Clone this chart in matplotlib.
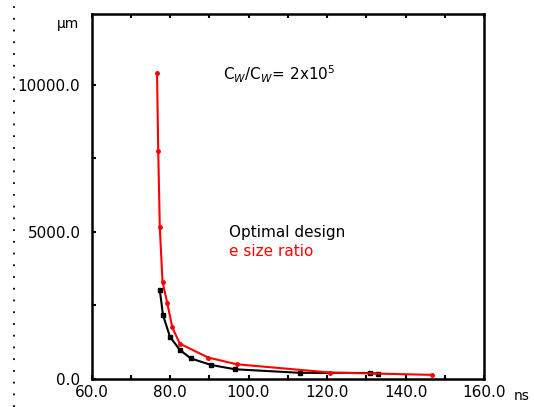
import matplotlib.pyplot as plt
from matplotlib.lines import Line2D

# values
delay_uniform = [76.7, 77.0, 77.4, 78.1, 79.3, 80.6, 82.5, 89.7, 97.0, 120.8, 146.8]
area_uniform = [10400, 7750, 5150, 3300, 2580, 1750, 1200, 730, 500, 220, 140]

delay_optimal = [77.4, 78.2, 80.0, 82.5, 85.3, 90.5, 96.6, 113.1, 130.9, 133.0]
area_optimal = [3030, 2180, 1430, 990, 700, 476, 330, 210, 205, 180]

x_ticks = [60, 80, 100, 120, 140, 160]
y_ticks = [0, 5000, 10000]

fig = plt.figure(figsize=(5.34, 4.07), dpi=100)
ax = fig.add_axes([91.5 / 534, 28 / 407, 392.5 / 534, 365 / 407])

ax.plot(delay_optimal, area_optimal, color="black", lw=1.5,
        marker="s", ms=3, mec="black", mfc="black")
ax.plot(delay_uniform, area_uniform, color="red", lw=1.5,
        marker="o", ms=2.5, mec="red", mfc="red")

ax.set_xlim(60, 160)
ax.set_ylim(0, 12400)
ax.set_xticks(x_ticks)
ax.set_xticklabels([f"{v:.1f}" for v in x_ticks])
ax.set_yticks(y_ticks)
ax.set_yticklabels([f"{v:.1f}" for v in y_ticks])
ax.set_xticks(range(70, 160, 20), minor=True)
ax.set_yticks([2500, 7500], minor=True)
ax.tick_params(which="both", direction="in", length=3, width=1.5,
               top=True, right=False, labelsize=11, pad=4)
ax.tick_params(axis="y", pad=8)
for s in ax.spines.values():
    s.set_linewidth(1.8)

fig.text(57 / 534, 1 - 24 / 407, "μm", fontsize=10, ha="left", va="center")
fig.text(514 / 534, 1 - 396 / 407, "ns", fontsize=10, ha="left", va="center")

ax.text(0.335, 0.835, r"C$_W$/C$_W$= 2x10$^5$", transform=ax.transAxes,
        fontsize=11, ha="left", va="center")
ax.text(0.35, 0.40, "Optimal design", transform=ax.transAxes,
        fontsize=11, ha="left", va="center", color="black")
ax.text(0.35, 0.35, "e size ratio", transform=ax.transAxes,
        fontsize=11, ha="left", va="center", color="red")

# dotted border line at the left edge
fig.add_artist(Line2D([14 / 534, 14 / 534], [0, 1], transform=fig.transFigure,
                      color="black", lw=1.3, linestyle=(0, (1, 5.5))))

fig.savefig("out.png", dpi=100)
